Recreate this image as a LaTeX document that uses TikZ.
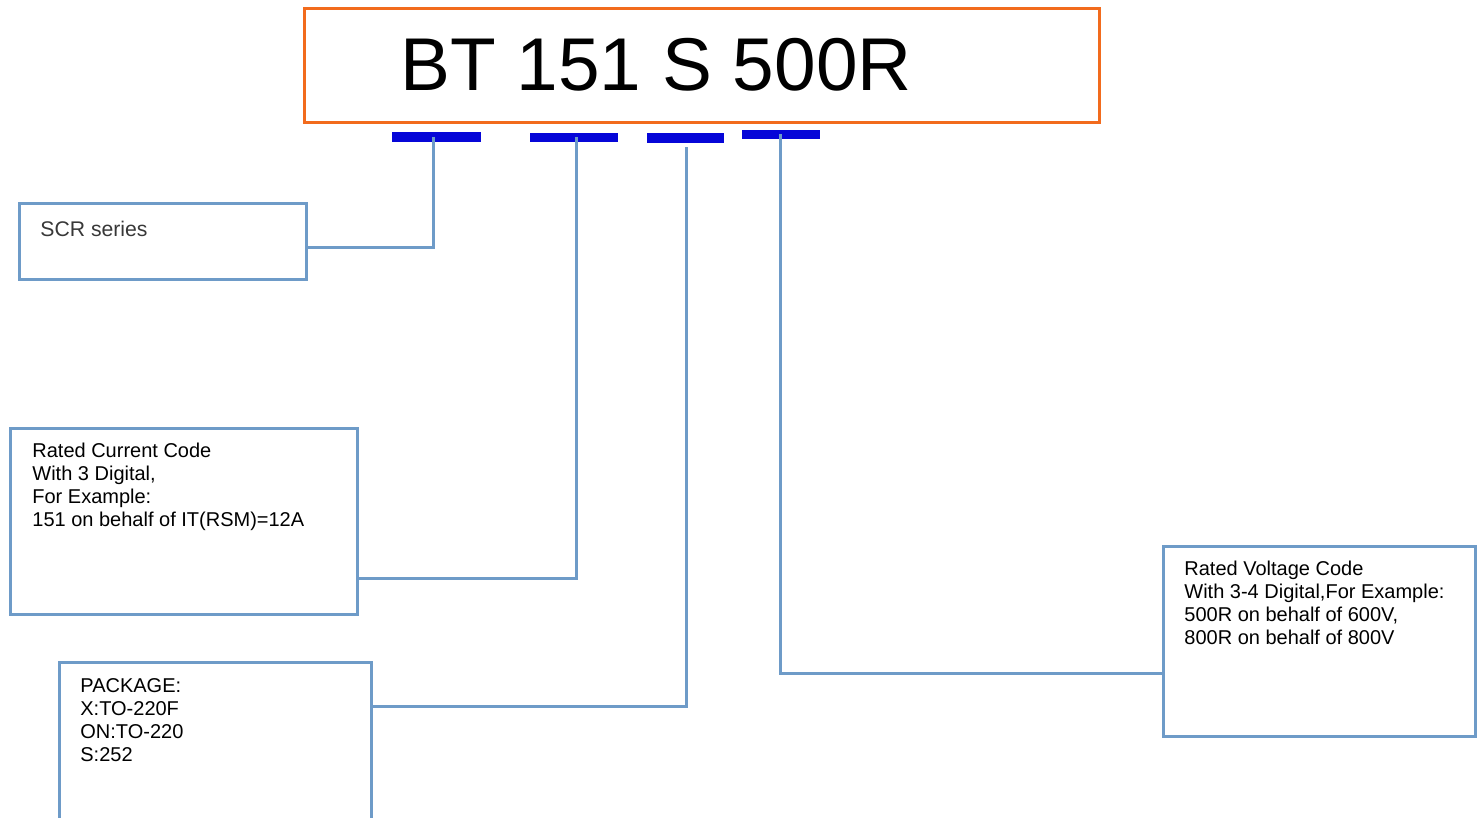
\documentclass[tikz,border=0pt]{standalone}
\usepackage{fontspec}
\setmainfont{Liberation Sans}
\usepackage{tikz}
\usetikzlibrary{positioning}
\definecolor{partorange}{HTML}{F26B1D}
\definecolor{linkblue}{HTML}{6E9BC8}
\definecolor{barblue}{HTML}{0606D8}
\tikzset{
  every info/.style={draw=linkblue,line width=1.5pt,anchor=north west,outer sep=0pt,inner sep=0pt},
  infotext/.style={anchor=north west,align=left,inner sep=0pt,font=\fontsize{10}{11.5}\selectfont},
  codebar/.style={fill=barblue,inner sep=0pt,minimum height=4.75pt},
  link/.style={draw=linkblue,line width=1.5pt},
}

\begin{document}
\begin{tikzpicture}[x=0.5pt,y=-0.5pt]
      \useasboundingbox (0,0) rectangle (1483,818);
      \node[draw=partorange,line width=1.5pt,anchor=north west,outer sep=0pt,minimum width=397.5pt,minimum height=57pt] (part) at (304,9) {};
      \node[anchor=base west,inner sep=0pt,font=\fontsize{37.4}{40}\selectfont] (partno) at (400,91) {BT 151 S 500R};

      \node[codebar,minimum width=44.5pt] (bar1) at (436.5,137) {};
      \node[codebar,minimum width=44pt] (bar2) at (574,137.5) {};
      \node[codebar,minimum width=38.5pt] (bar3) at (685.5,138) {};
      \node[codebar,minimum width=39pt] (bar4) at (781,134.5) {};

      \node[every info,minimum width=143.5pt,minimum height=38pt] (scr) at (19,204) {};
      \node[infotext,text=black!78,font=\fontsize{10.6}{12}\selectfont] (scrtext) at (40,221) {SCR series};
      \node[every info,minimum width=173.5pt,minimum height=93pt] (current) at (10,428) {};
      \node[infotext] (currenttext) at (32,443) {Rated Current Code\\With 3 Digital,\\For Example:\\151 on behalf of IT(RSM)=12A};
      \node[every info,minimum width=156pt,minimum height=90pt] (package) at (59,662) {};
      \node[infotext] (packagetext) at (80,678) {PACKAGE:\\X:TO-220F\\ON:TO-220\\S:252};
      \node[every info,minimum width=156pt,minimum height=95pt] (voltage) at (1163,546) {};
      \node[infotext] (voltagetext) at (1184,561) {Rated Voltage Code\\With 3-4 Digital,For Example:\\500R on behalf of 600V,\\800R on behalf of 800V};

      \coordinate (j1) at (433,248);
      \coordinate (j2) at (576,578);
      \coordinate (j3) at (686,706);
      \coordinate (j4) at (780,673);
      \path[link] (bar1.center -| j1) -- (j1) -- (scr.east |- j1);
      \path[link] (bar2.center -| j2) -- (j2) -- (current.east |- j2);
      \path[link] ([yshift=-2pt]bar3.south -| j3) -- (j3) -- (package.east |- j3);
      \path[link] (bar4.center -| j4) -- (j4) -- (voltage.west |- j4);
\end{tikzpicture}
\end{document}
